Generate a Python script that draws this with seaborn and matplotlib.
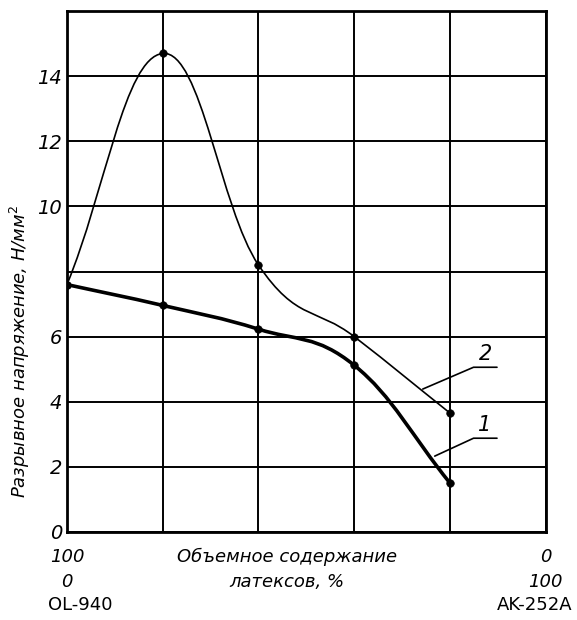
import numpy as np
import matplotlib
matplotlib.use("Agg")
import matplotlib.pyplot as plt
from matplotlib.path import Path
from matplotlib.patches import PathPatch
import seaborn as sns

# share of AK-252A latex, %
x_share = [0, 20, 40, 60, 80]
# breaking stress, N/mm^2
curve1 = [7.6, 6.96, 6.23, 5.12, 1.5]
curve2 = [7.6, 14.7, 8.2, 6.0, 3.65]
y_ticks = [0, 2, 4, 6, 10, 12, 14]
series_names = ["1", "2"]

sns.set_style("white")
plt.rcParams["font.family"] = ["DejaVu Sans"]
plt.rcParams["text.color"] = "black"
plt.rcParams["axes.labelcolor"] = "black"
plt.rcParams["ytick.color"] = "black"


def smooth_path(xs, ys):
    # Catmull-Rom -> cubic Bezier segments, drawn by matplotlib's Path
    p = np.column_stack([xs, ys]).astype(float)
    ext = np.vstack([p[0] - (p[1] - p[0]), p, p[-1] + (p[-1] - p[-2])])
    verts = [tuple(p[0])]
    codes = [Path.MOVETO]
    for i in range(1, len(ext) - 2):
        p0, p1, p2, p3 = ext[i - 1], ext[i], ext[i + 1], ext[i + 2]
        c1 = p1 + (p2 - p0) / 5
        c2 = p2 - (p3 - p1) / 5
        verts += [tuple(c1), tuple(c2), tuple(p2)]
        codes += [Path.CURVE4] * 3
    return Path(verts, codes)


fig = plt.figure(figsize=(5.77, 6.20), dpi=100)
ax = fig.add_axes([0.116, 0.142, 0.830, 0.840])

for ys, lw in [(curve1, 2.6), (curve2, 1.2)]:
    ax.add_patch(PathPatch(smooth_path(x_share, ys), fill=False, lw=lw,
                           edgecolor="black", zorder=3, capstyle="round"))
    sns.scatterplot(x=x_share, y=ys, ax=ax, color="black", s=30,
                    marker="o", edgecolor="black", zorder=4, legend=False)

ax.set_xlim(0, 100)
ax.set_ylim(0, 16)
ax.set_xticks(np.arange(0, 101, 20))
ax.set_yticks(np.arange(0, 17, 2))
ax.grid(True, color="black", lw=1.4)
ax.set_axisbelow(True)
for s in ax.spines.values():
    s.set_color("black")
    s.set_linewidth(2)
ax.tick_params(length=0)
ax.set_xticklabels([])
ax.set_yticklabels([str(v) if v in y_ticks else "" for v in range(0, 17, 2)],
                   fontsize=14, style="italic")

ax.set_ylabel("Разрывное напряжение, Н/мм$^2$", fontsize=13,
              style="italic")
ax.yaxis.set_label_coords(-0.072, 0.347)

# series callouts
for name, tx, ty, lx, ly in [(series_names[1], 87.5, 5.06, 74.3, 4.39),
                             (series_names[0], 87.2, 2.88, 76.8, 2.33)]:
    ax.plot([lx, 84.9, 89.8], [ly, ty, ty], color="black", lw=1.2,
            zorder=5)
    ax.text(tx, ty + 0.1, name, fontsize=15, style="italic",
            ha="center", va="bottom")

# bottom composition labels
kw = dict(transform=ax.transAxes, clip_on=False, fontsize=13)
ax.text(0.0, -0.048, "100", ha="center", va="center", style="italic", **kw)
ax.text(0.0, -0.096, "0", ha="center", va="center", style="italic", **kw)
ax.text(-0.04, -0.140, "OL-940", ha="left", va="center", **kw)
ax.text(1.0, -0.048, "0", ha="center", va="center", style="italic", **kw)
ax.text(1.0, -0.096, "100", ha="center", va="center", style="italic", **kw)
ax.text(1.055, -0.140, "AK-252A", ha="right", va="center", **kw)
ax.text(0.46, -0.048, "Объемное содержание", ha="center", va="center",
        style="italic", **kw)
ax.text(0.46, -0.096, "латексов, %", ha="center", va="center",
        style="italic", **kw)

fig.savefig("out.png", dpi=100, facecolor="white")
